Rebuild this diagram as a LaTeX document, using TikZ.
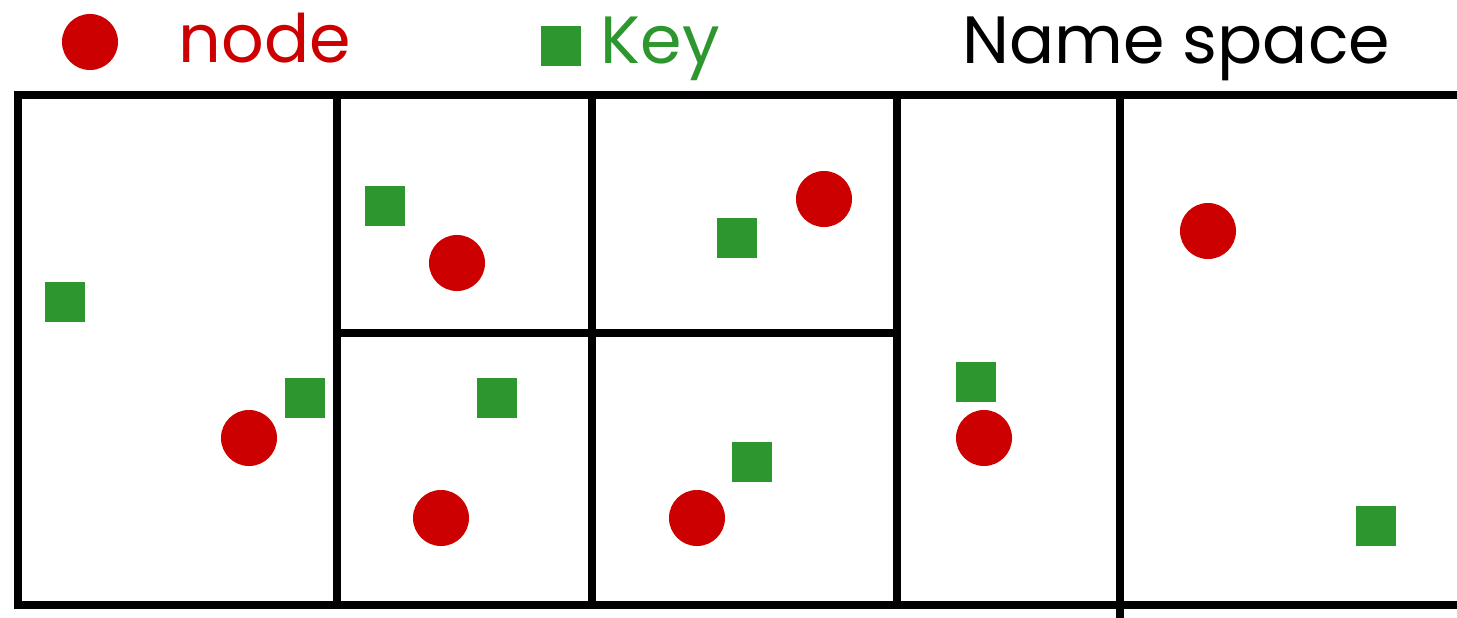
\documentclass[tikz,border=0pt]{standalone}
\usepackage{fontspec}
\setmainfont{Poppins}
\usetikzlibrary{positioning}
\definecolor{nodered}{HTML}{CC0000}
\definecolor{keygreen}{HTML}{2E962E}

\begin{document}
\begin{tikzpicture}[
  x=0.01cm, y=-0.01cm,
  wall/.style={line width=0.08cm, black},
  peer/.style={circle, fill=nodered, inner sep=0pt, minimum size=0.56cm},
  keybox/.style={rectangle, fill=keygreen, inner sep=0pt, minimum size=0.40cm},
  lbl/.style={anchor=base west, inner sep=0pt, font=\fontsize{19}{23}\selectfont},
]
\useasboundingbox (0,0) rectangle (1457,618);
\def\yT{95}\def\yB{605}\def\yM{333}

% ===== legend =====
\node[peer] (legN) at (90,42) {};
\node[lbl,nodered] (legNtxt) at (178,62) {node};
\node[keybox] (legK) at (561,46) {};
\node[lbl,keygreen] (legKtxt) at (600,63) {Key};
\node[lbl] (title) at (962,63) {Name space};

% ===== name space partition =====
\draw[wall,line join=miter] (1457,\yT) -- (18,\yT) -- (18,\yB) -- (1457,\yB);
\draw[wall] (337,\yT) -- (337,\yB);
\draw[wall] (592,\yT) -- (592,\yB);
\draw[wall] (897,\yT) -- (897,\yB);
\draw[wall] (1120,\yT) -- (1120,618);
\draw[wall] (337,\yM) -- (897,\yM);

% ===== nodes =====
\node[peer] (n1) at (249,438) {};
\node[peer] (n2) at (457,263) {};
\node[peer] (n3) at (441,518) {};
\node[peer] (n4) at (824,199) {};
\node[peer] (n5) at (697,518) {};
\node[peer] (n6) at (984,438) {};
\node[peer] (n7) at (1208,231) {};

% ===== keys =====
\node[keybox] (k1) at (65,302) {};
\node[keybox] (k2) at (305,398) {};
\node[keybox] (k3) at (385,206) {};
\node[keybox] (k4) at (497,398) {};
\node[keybox] (k5) at (737,238) {};
\node[keybox] (k6) at (752,462) {};
\node[keybox] (k7) at (976,382) {};
\node[keybox] (k8) at (1376,526) {};
\end{tikzpicture}
\end{document}
